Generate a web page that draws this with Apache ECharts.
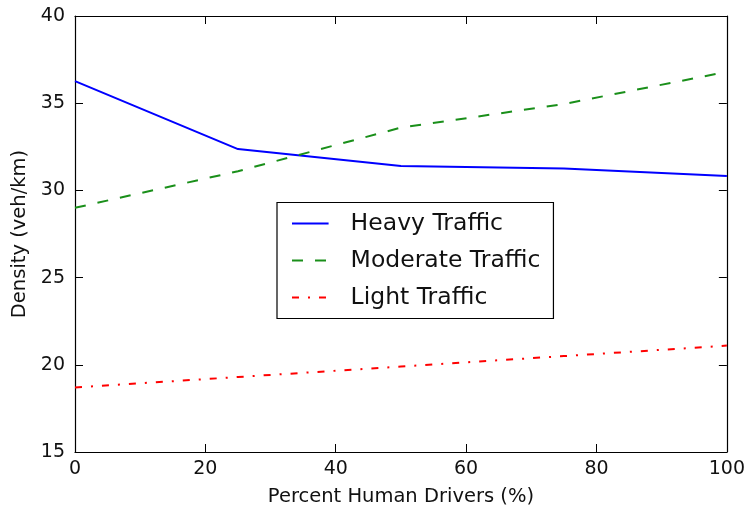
<!DOCTYPE html>
<html>
<head>
<meta charset="utf-8">
<script src="https://cdn.jsdelivr.net/npm/echarts@6/dist/echarts.min.js"></script>
<style>
  html, body { margin: 0; padding: 0; background: #fff; }
  #grafica { width: 748px; height: 512px; }
</style>
</head>
<body>
<div id="grafica"></div>
<script>
let humanPct = [0, 25, 50, 75, 100];
let heavy = [36.27, 32.37, 31.40, 31.25, 30.83];
let moderate = [29.0, 31.1, 33.6, 34.95, 36.8];
let light = [18.7, 19.3, 19.9, 20.5, 21.1];
let xTicks = [0, 20, 40, 60, 80, 100];
let yTicks = [15, 20, 25, 30, 35, 40];

let fuente = 'DejaVu Sans';

function puntos(valores) {
  return humanPct.map((x, i) => [x, valores[i]]);
}

let chartDom = document.getElementById('grafica');
let myChart = echarts.init(chartDom, null, { renderer: 'canvas' });

let ejeX = {
  type: 'value',
  min: xTicks[0],
  max: xTicks[xTicks.length - 1],
  interval: 20,
  axisLine: { show: true, onZero: false, lineStyle: { color: '#000', width: 1.2 } },
  axisTick: { show: true, inside: true, length: 8, lineStyle: { color: '#000' } },
  splitLine: { show: false }
};
let ejeY = {
  type: 'value',
  min: yTicks[0],
  max: yTicks[yTicks.length - 1],
  interval: 5,
  axisLine: { show: true, onZero: false, lineStyle: { color: '#000', width: 1.2 } },
  axisTick: { show: true, inside: true, length: 8, lineStyle: { color: '#000' } },
  splitLine: { show: false }
};

let option = {
  animation: false,
  textStyle: { fontFamily: fuente },
  grid: { left: 75, right: 21, top: 16, bottom: 60 },
  xAxis: [
    Object.assign({}, ejeX, {
      position: 'bottom',
      name: 'Percent Human Drivers (%)',
      nameLocation: 'middle',
      nameGap: 35,
      nameTextStyle: { fontSize: 19.5, color: '#111', fontFamily: fuente },
      axisLabel: { fontSize: 19, color: '#111', margin: 8, fontFamily: fuente }
    }),
    Object.assign({}, ejeX, { position: 'top', axisLabel: { show: false } })
  ],
  yAxis: [
    Object.assign({}, ejeY, {
      position: 'left',
      name: 'Density (veh/km)',
      nameLocation: 'middle',
      nameGap: 44,
      nameTextStyle: { fontSize: 19.5, color: '#111', fontFamily: fuente },
      axisLabel: { fontSize: 19, color: '#111', margin: 10, fontFamily: fuente }
    }),
    Object.assign({}, ejeY, { position: 'right', axisLabel: { show: false } })
  ],
  legend: {
    orient: 'vertical',
    left: 277,
    top: 202.5,
    padding: [9, 13, 9, 14],
    itemGap: 13,
    itemWidth: 36.6,
    itemHeight: 24,
    backgroundColor: '#fff',
    borderColor: '#000',
    borderWidth: 1.2,
    borderRadius: 0,
    itemStyle: { opacity: 0, color: 'transparent', borderWidth: 0 },
    textStyle: { fontSize: 23.5, lineHeight: 24, color: '#111', fontFamily: fuente, padding: [0, 0, 0, 17] },
    data: ['Heavy Traffic', 'Moderate Traffic', 'Light Traffic']
  },
  series: [
    {
      name: 'Heavy Traffic',
      type: 'line',
      data: puntos(heavy),
      showSymbol: false,
      symbol: 'none',
      color: '#0000ff',
      lineStyle: { color: '#0000ff', width: 2 }
    },
    {
      name: 'Moderate Traffic',
      type: 'line',
      data: puntos(moderate),
      showSymbol: false,
      symbol: 'none',
      color: '#1a8f1a',
      lineStyle: { color: '#1a8f1a', width: 2, type: [11, 12] }
    },
    {
      name: 'Light Traffic',
      type: 'line',
      data: puntos(light),
      showSymbol: false,
      symbol: 'none',
      color: '#ff0000',
      lineStyle: { color: '#ff0000', width: 2, type: [7, 9, 2, 9] }
    }
  ]
};

myChart.setOption(option);
</script>
</body>
</html>
